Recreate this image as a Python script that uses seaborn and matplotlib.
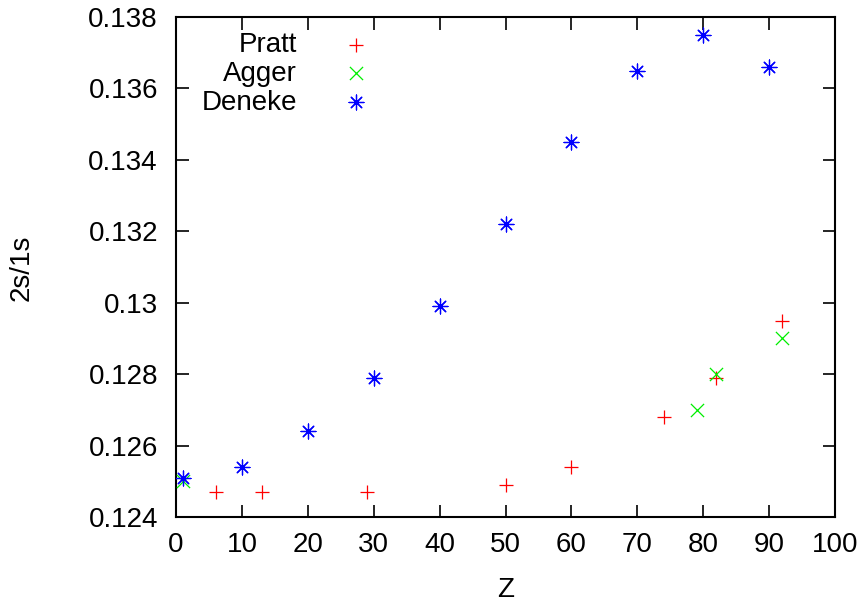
import matplotlib
matplotlib.use("Agg")
import matplotlib.pyplot as plt
import seaborn as sns
import pandas as pd

pratt_z = [6, 13, 29, 50, 60, 74, 82, 92]
pratt_v = [0.1247, 0.1247, 0.1247, 0.1249, 0.1254, 0.1268, 0.1279, 0.1295]
agger_z = [1, 79, 82, 92]
agger_v = [0.1250, 0.1270, 0.1280, 0.1290]
deneke_z = [1, 10, 20, 30, 40, 50, 60, 70, 80, 90]
deneke_v = [0.1251, 0.1254, 0.1264, 0.1279, 0.1299, 0.1322, 0.1345, 0.1365, 0.1375, 0.1366]

xticks = [0, 10, 20, 30, 40, 50, 60, 70, 80, 90, 100]
yticks = [0.124, 0.126, 0.128, 0.130, 0.132, 0.134, 0.136, 0.138]
ytick_labels = ["0.124", "0.126", "0.128", "0.13", "0.132", "0.134", "0.136", "0.138"]

sns.set_style("ticks")
plt.rcParams['font.family'] = ['Liberation Sans', 'DejaVu Sans']
plt.rcParams['text.color'] = 'black'
plt.rcParams['axes.labelcolor'] = 'black'
plt.rcParams['xtick.color'] = 'black'
plt.rcParams['ytick.color'] = 'black'
plt.rcParams['axes.edgecolor'] = 'black'

FS = 20
fig = plt.figure(figsize=(8.64, 6.06), dpi=100)
ax = fig.add_axes([176/864, 89/606, 659/864, 500/606])

series = [
    ("Pratt", pratt_z, pratt_v, "#ff0000", "+", 90),
    ("Agger", agger_z, agger_v, "#00ee00", "x", 90),
    ("Deneke", deneke_z, deneke_v, "#0000ff", (8, 2, 0), 115),
]
for name, z, v, c, m, s in series:
    df = pd.DataFrame({"Z": z, "val": v})
    sns.scatterplot(data=df, x="Z", y="val", ax=ax, color=c, marker=m,
                    s=s, linewidth=0.9, label=name, edgecolor=c, zorder=3)

ax.set_xlim(0, 100)
ax.set_ylim(0.124, 0.138)
ax.set_xticks(xticks)
ax.set_xticklabels([str(t) for t in xticks])
ax.set_yticks(yticks)
ax.set_yticklabels(ytick_labels)
ax.tick_params(direction="in", length=9, width=1.2, top=True, right=True,
               labelsize=FS, colors="black")
ax.tick_params(axis="y", pad=13)
ax.tick_params(axis="x", pad=11)
for sp in ax.spines.values():
    sp.set_linewidth(1.5)
    sp.set_color("black")
    sp.set_visible(True)

ax.set_xlabel("Z", fontsize=FS, color="black")
ax.xaxis.set_label_coords(0.5, (517 - 590) / 500)
ax.xaxis.label.set_va("center")
ax.set_ylabel("2s/1s", fontsize=FS, rotation=90, color="black")
ax.yaxis.set_label_coords((22 - 176) / 659, (517 - 268) / 500)
ax.yaxis.label.set_va("center")

leg = ax.legend(loc="upper right", bbox_to_anchor=(370/864, 1 - 32/606),
                bbox_transform=fig.transFigure, frameon=False,
                markerfirst=False, fontsize=FS, handletextpad=1.62,
                labelspacing=0.1, handlelength=1.0, borderpad=0,
                borderaxespad=0)
leg._legend_box.align = "right"
for t in leg.get_texts():
    t.set_color("black")

fig.savefig("out.png", dpi=100)
